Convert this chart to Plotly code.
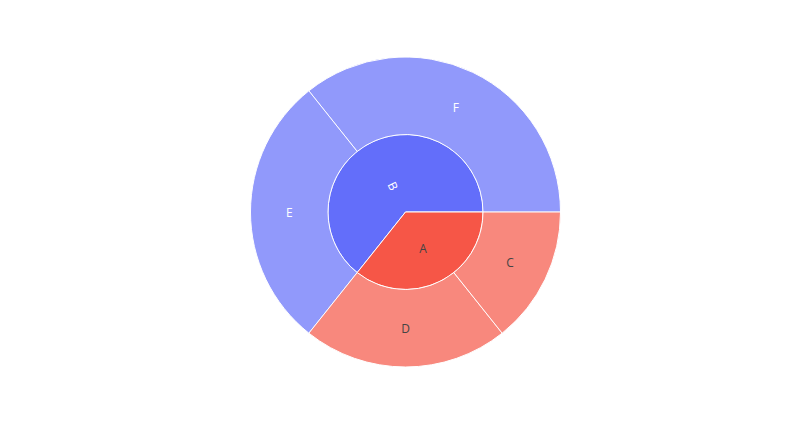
import plotly.graph_objects as go

# sunburst hierarchy
labels = ["A", "B", "C", "D", "E", "F"]
parents = ["", "", "A", "A", "B", "B"]
values = [0, 0, 2, 3, 4, 5]

red = "#F65647"
blue = "#636EFA"
colors = [red, blue, red, red, blue, blue]

fig = go.Figure(
    go.Sunburst(
        labels=labels,
        parents=parents,
        values=values,
        marker=dict(colors=colors),
    )
)
fig.update_layout(margin=dict(t=49, b=70, l=80, r=80))

fig.write_html("out.html")
